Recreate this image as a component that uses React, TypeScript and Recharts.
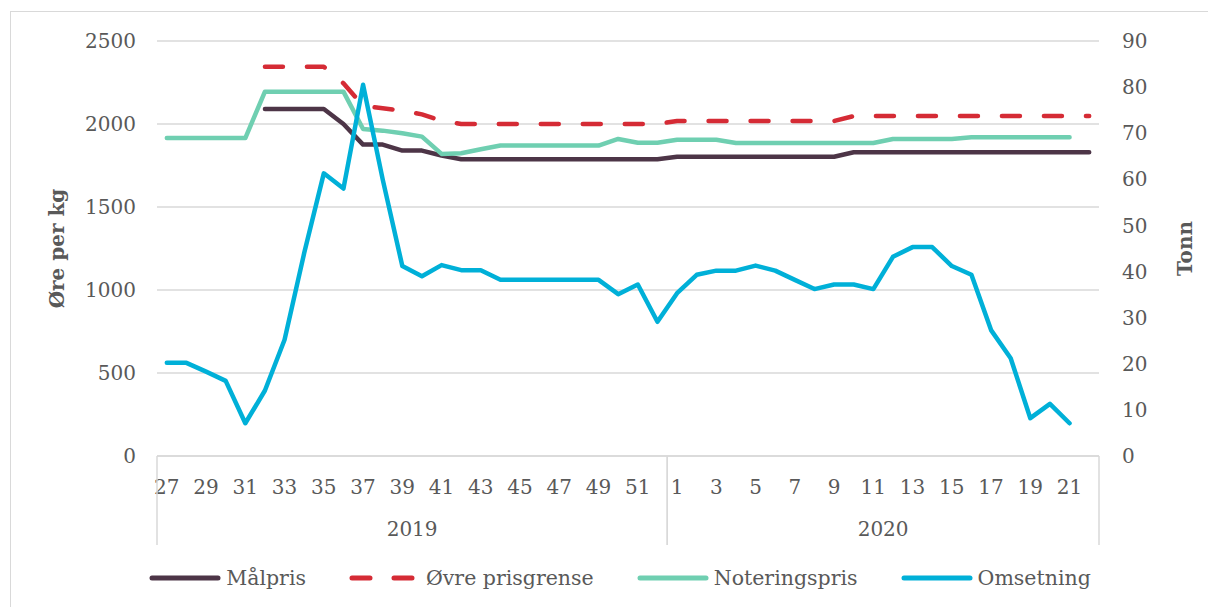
import { LineChart, Line, XAxis, YAxis, CartesianGrid, Legend } from 'recharts';

// uke-kategorier
const weeks2019 = [27, 28, 29, 30, 31, 32, 33, 34, 35, 36, 37, 38, 39, 40, 41, 42, 43, 44, 45, 46, 47, 48, 49, 50, 51, 52];
const weeks2020 = [1, 2, 3, 4, 5, 6, 7, 8, 9, 10, 11, 12, 13, 14, 15, 16, 17, 18, 19, 20, 21, 22];
const years = ['2019', '2020'];

// øre per kg
const malpris = [
  null, null, null, null, null, 2090, 2090, 2090, 2090, 2000, 1876, 1876, 1840, 1840, 1810, 1788,
  1788, 1788, 1788, 1788, 1788, 1788, 1788, 1788, 1788, 1788,
  1803, 1803, 1803, 1803, 1803, 1803, 1803, 1803, 1803, 1830, 1830, 1830, 1830, 1830, 1830, 1830,
  1830, 1830, 1830, 1830, 1830, 1830,
];
const ovrePrisgrense = [
  null, null, null, null, null, 2345, 2345, 2345, 2345, 2245, 2110, 2095, 2080, 2058, 2020, 2000,
  2000, 2000, 2000, 2000, 2000, 2000, 2000, 2000, 2000, 2000,
  2018, 2018, 2018, 2018, 2018, 2018, 2018, 2018, 2018, 2048, 2048, 2048, 2048, 2048, 2048, 2048,
  2048, 2048, 2048, 2048, 2048, 2048,
];
const noteringspris = [
  1915, 1915, 1915, 1915, 1915, 2195, 2195, 2195, 2195, 2195, 1970, 1960, 1944, 1924, 1820, 1824,
  1848, 1870, 1870, 1870, 1870, 1870, 1870, 1910, 1887, 1887,
  1905, 1905, 1905, 1886, 1886, 1886, 1886, 1886, 1886, 1886, 1886, 1910, 1910, 1910, 1910, 1920,
  1920, 1920, 1920, 1920, 1920, null,
];
// tonn
const omsetning = [
  20.2, 20.2, 18.3, 16.3, 7.1, 14.2, 25.2, 44, 61.3, 58, 80.5, 60, 41.2, 39, 41.4, 40.3,
  40.3, 38.2, 38.2, 38.2, 38.2, 38.2, 38.2, 35.1, 37.2, 29.1,
  35.3, 39.3, 40.2, 40.2, 41.3, 40.2, 38.2, 36.2, 37.2, 37.2, 36.2, 43.2, 45.3, 45.3, 41.2, 39.3,
  27.3, 21.2, 8.2, 11.3, 7.1, null,
];

const priceTicks = [0, 500, 1000, 1500, 2000, 2500];
const tonnTicks = [0, 10, 20, 30, 40, 50, 60, 70, 80, 90];

const rows = [
  ...weeks2019.map((w) => ({ week: w, year: years[0] })),
  ...weeks2020.map((w) => ({ week: w, year: years[1] })),
].map((r, i) => ({
  ...r,
  malpris: malpris[i],
  ovre: ovrePrisgrense[i],
  notering: noteringspris[i],
  omsetning: omsetning[i],
}));

const COLORS = {
  malpris: '#4d3547',
  ovre: '#d52b35',
  notering: '#6fcfb1',
  omsetning: '#00b0d8',
};
const TEXT = '#595959';
const GRID = '#d9d9d9';

const W = 1208;
const H = 607;
const LEFT_W = 157;
const RIGHT_W = 109;
const PLOT_W = W - LEFT_W - RIGHT_W;
const BAND = PLOT_W / rows.length;
const WEEK_AXIS_H = 60;
const YEAR_AXIS_H = 42;
const LEGEND_H = 40;

// andre nivå av x-aksen: årstall og skillelinjer
const YearTick = (props: any) => {
  const { x, y, payload } = props;
  const i = payload.index;
  const yr = rows[i].year;
  const first = i === 0 || rows[i - 1].year !== yr;
  const last = i === rows.length - 1 || rows[i + 1].year !== yr;
  const count = rows.filter((r) => r.year === yr).length;
  const top = y - WEEK_AXIS_H;
  const bottom = y + 29;
  return (
    <g>
      {first && (
        <>
          <line x1={x - BAND / 2} x2={x - BAND / 2} y1={top} y2={bottom} stroke={GRID} strokeWidth={1.5} />
          <text x={x - BAND / 2 + (count * BAND) / 2} y={y + 20} textAnchor="middle" fill={TEXT} fontSize={20}>
            {yr}
          </text>
        </>
      )}
      {last && <line x1={x + BAND / 2} x2={x + BAND / 2} y1={top} y2={bottom} stroke={GRID} strokeWidth={1.5} />}
    </g>
  );
};

const legendItems = [
  { label: 'Målpris', color: COLORS.malpris, dash: undefined },
  { label: 'Øvre prisgrense', color: COLORS.ovre, dash: '18 24' },
  { label: 'Noteringspris', color: COLORS.notering, dash: undefined },
  { label: 'Omsetning', color: COLORS.omsetning, dash: undefined },
];

const LegendContent = () => (
  <div
    style={{
      display: 'flex',
      justifyContent: 'center',
      alignItems: 'center',
      height: LEGEND_H,
      gap: 42,
      fontSize: 20.5,
      color: TEXT,
      paddingLeft: 31,
    }}
  >
    {legendItems.map((it) => (
      <div key={it.label} style={{ display: 'flex', alignItems: 'center' }}>
        <svg width={74} height={10}>
          <line
            x1={4}
            x2={70}
            y1={5}
            y2={5}
            stroke={it.color}
            strokeWidth={5}
            strokeLinecap="round"
            strokeDasharray={it.dash}
          />
        </svg>
        <span style={{ marginLeft: 4 }}>{it.label}</span>
      </div>
    ))}
  </div>
);

export default function App() {
  return (
    <div style={{ position: 'relative', width: W, height: H, fontFamily: "'DejaVu Serif', serif", background: '#fff' }}>
      <style>{'body{margin:0}'}</style>
      <div
        style={{
          position: 'absolute',
          left: 10,
          top: 11,
          right: 0,
          bottom: 0,
          borderLeft: `1.5px solid ${GRID}`,
          borderTop: `1.5px solid ${GRID}`,
          pointerEvents: 'none',
        }}
      />
      <LineChart
        width={W}
        height={H}
        data={rows}
        margin={{ top: 41, right: 0, left: 0, bottom: H - 456 - WEEK_AXIS_H - YEAR_AXIS_H - LEGEND_H }}
      >
        <CartesianGrid yAxisId="left" vertical={false} stroke={GRID} strokeWidth={1.5} />
        <XAxis
          dataKey="week"
          scale="band"
          interval={1}
          height={WEEK_AXIS_H}
          tickSize={0}
          tickMargin={24}
          axisLine={{ stroke: GRID, strokeWidth: 1.5 }}
          tickLine={false}
          tick={{ fill: TEXT, fontSize: 20 }}
        />
        <XAxis
          xAxisId="year"
          dataKey="week"
          scale="band"
          interval={0}
          height={YEAR_AXIS_H}
          tickSize={0}
          tickMargin={0}
          axisLine={false}
          tickLine={false}
          tick={<YearTick />}
        />
        <YAxis
          yAxisId="left"
          width={LEFT_W}
          domain={[0, 2500]}
          ticks={priceTicks}
          axisLine={false}
          tickLine={false}
          tickSize={0}
          tickMargin={21}
          tick={{ fill: TEXT, fontSize: 20 }}
          label={{
            value: 'Øre per kg',
            angle: -90,
            position: 'insideLeft',
            offset: 57,
            fill: TEXT,
            fontSize: 20,
            fontWeight: 700,
            style: { textAnchor: 'middle' },
          }}
        />
        <YAxis
          yAxisId="right"
          orientation="right"
          width={RIGHT_W}
          domain={[0, 90]}
          ticks={tonnTicks}
          axisLine={false}
          tickLine={false}
          tickSize={0}
          tickMargin={23}
          tick={{ fill: TEXT, fontSize: 20, textAnchor: 'start' }}
          label={{
            value: 'Tonn',
            angle: -90,
            position: 'insideRight',
            offset: 23,
            fill: TEXT,
            fontSize: 20,
            fontWeight: 700,
            style: { textAnchor: 'middle' },
          }}
        />
        <Legend verticalAlign="bottom" content={<LegendContent />} />
        <Line
          yAxisId="left"
          dataKey="malpris"
          name="Målpris"
          stroke={COLORS.malpris}
          strokeWidth={4.5}
          strokeLinecap="round"
          strokeLinejoin="round"
          dot={false}
          isAnimationActive={false}
        />
        <Line
          yAxisId="left"
          dataKey="ovre"
          name="Øvre prisgrense"
          stroke={COLORS.ovre}
          strokeWidth={4.5}
          strokeDasharray="18 24"
          strokeLinecap="round"
          strokeLinejoin="round"
          dot={false}
          isAnimationActive={false}
        />
        <Line
          yAxisId="left"
          dataKey="notering"
          name="Noteringspris"
          stroke={COLORS.notering}
          strokeWidth={4.5}
          strokeLinecap="round"
          strokeLinejoin="round"
          dot={false}
          isAnimationActive={false}
        />
        <Line
          yAxisId="right"
          dataKey="omsetning"
          name="Omsetning"
          stroke={COLORS.omsetning}
          strokeWidth={4.5}
          strokeLinecap="round"
          strokeLinejoin="round"
          dot={false}
          isAnimationActive={false}
        />
      </LineChart>
    </div>
  );
}
